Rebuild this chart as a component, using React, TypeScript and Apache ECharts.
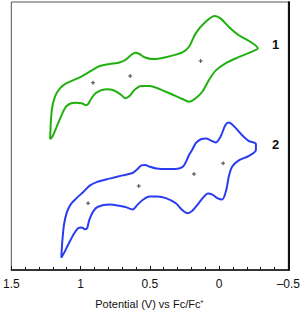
import React, { useEffect, useRef } from "react";
import * as echarts from "echarts";

// Potential (V vs Fc/Fc+) and current (arbitrary units, offset) for compound 1
const cv1Potential = [
  1.220, 1.208, 1.185, 1.149, 1.101, 1.005, 0.934, 0.862, 0.790, 0.719, 0.671, 0.635, 0.604, 0.575, 0.539, 0.480, 0.384, 0.265, 0.217, 0.169, 0.097, 0.030, -0.010, -0.069, -0.140, -0.237, -0.280,
  -0.237, -0.140, -0.046, 0.025, 0.073, 0.121, 0.169, 0.217, 0.265, 0.384, 0.504, 0.563, 0.611, 0.647, 0.676, 0.706, 0.754, 0.814, 0.886, 0.921, 0.946, 0.962, 0.993, 1.041, 1.101, 1.137, 1.172, 1.201, 1.220,
];
const cv1Current = [
  48.8, 59.7, 64.7, 67.8, 69.7, 71.9, 74.0, 76.1, 76.9, 77.4, 78.6, 80.2, 81.1, 80.6, 79.4, 78.7, 79.4, 81.2, 83.3, 88.3, 92.6, 94.8, 93.9, 90.8, 87.7, 84.8, 82.7,
  81.5, 79.4, 77.1, 74.4, 70.9, 66.5, 64.1, 62.8, 63.8, 66.5, 68.7, 68.7, 67.2, 64.9, 64.1, 65.3, 66.9, 67.4, 66.2, 64.1, 61.9, 61.5, 62.2, 62.4, 61.2, 57.8, 53.5, 50.0, 48.8,
];

// Compound 2
const cv2Potential = [
  1.139, 1.134, 1.120, 1.099, 1.070, 1.027, 0.977, 0.934, 0.884, 0.790, 0.697, 0.625, 0.593, 0.561, 0.532, 0.504, 0.453, 0.360, 0.289, 0.260, 0.238, 0.217, 0.195, 0.167, 0.131, 0.095, 0.059, 0.025, -0.010, -0.046, -0.070, -0.106, -0.165, -0.213, -0.266,
  -0.266, -0.213, -0.142, -0.094, -0.070, -0.052, -0.023, 0.009, 0.045, 0.081, 0.109, 0.152, 0.195, 0.228, 0.267, 0.312, 0.384, 0.446, 0.504, 0.552, 0.590, 0.623, 0.676, 0.733, 0.790, 0.874, 0.910, 0.937, 0.953, 0.970, 0.991, 1.018, 1.053, 1.091, 1.120, 1.139,
];
const cv2Current = [
  4.6, 9.3, 16.8, 21.6, 24.6, 26.9, 29.3, 31.5, 32.8, 34.1, 35.3, 36.2, 37.5, 39.0, 39.2, 38.6, 37.9, 37.7, 37.9, 38.6, 40.5, 42.9, 44.8, 47.4, 48.8, 49.1, 48.3, 47.6, 49.7, 54.1, 55.0, 53.7, 50.4, 48.2, 47.0,
  44.8, 42.5, 40.9, 38.5, 34.8, 29.9, 26.3, 26.7, 28.0, 28.5, 27.4, 24.6, 22.0, 21.2, 22.4, 24.9, 26.8, 27.4, 27.4, 26.1, 24.3, 22.6, 23.5, 24.1, 24.4, 23.6, 21.8, 18.7, 15.6, 15.2, 15.9, 15.6, 13.1, 9.3, 6.3, 4.6,
];

// Half-wave potentials (E1/2) markers
const e12Potential1 = [0.910, 0.642, 0.133];
const e12Current1 = [69.9, 72.4, 78.0];
const e12Potential2 = [0.946, 0.580, 0.181, -0.029];
const e12Current2 = [24.9, 31.3, 35.8, 39.8];

const xTicks = { min: -0.5, max: 1.5, interval: 0.5 };
const labels = ["1", "2"];

const zip = (a: number[], b: number[]) => a.map((v, i) => [v, b[i]]);

const FONT = "'Liberation Sans', Arial, Helvetica, sans-serif";
const PLUS = "path://M1.5,0h1v1.5h1.5v1h-1.5v1.5h-1v-1.5h-1.5v-1h1.5z";

export default function App() {
  const ref = useRef<HTMLDivElement>(null);
  useEffect(() => {
    if (!ref.current) return;
    const chart = echarts.init(ref.current, undefined, { renderer: "svg" });
    chart.setOption({
      animation: false,
      backgroundColor: "#fff",
      grid: {
        left: 11, right: 13, top: 2, bottom: 45,
        show: true, borderColor: "#555", borderWidth: 1,
      },
      xAxis: {
        type: "value",
        inverse: true,
        min: xTicks.min, max: xTicks.max, interval: xTicks.interval,
        name: "Potential (V) vs Fc/Fc\u207A",
        nameLocation: "middle",
        nameGap: 28,
        nameTextStyle: { fontFamily: FONT, fontSize: 11, color: "#111" },
        axisLine: { show: true, onZero: false, lineStyle: { color: "#111", width: 1.5 } },
        axisTick: { show: true, inside: true, length: 4, lineStyle: { color: "#111", width: 1 } },
        minorTick: { show: true, splitNumber: 5, length: 3, lineStyle: { color: "#111", width: 1 } },
        splitLine: { show: false },
        axisLabel: {
          fontFamily: FONT, fontSize: 12, color: "#111", margin: 8,
          showMinLabel: true, showMaxLabel: true,
          formatter: (v: number) => String(v).replace("-", "\u2013"),
        },
      },
      yAxis: {
        type: "value",
        min: 0, max: 100,
        position: "right",
        axisLine: { show: true, onZero: false, lineStyle: { color: "#111", width: 2 } },
        axisTick: { show: false },
        axisLabel: { show: false },
        splitLine: { show: false },
      },
      series: [
        {
          type: "line", data: zip(cv1Potential, cv1Current), smooth: 0.3,
          showSymbol: false, lineStyle: { color: "#22b010", width: 2 },
        },
        {
          type: "line", data: zip(cv2Potential, cv2Current), smooth: 0.3,
          showSymbol: false, lineStyle: { color: "#2a3cf0", width: 2 },
        },
        {
          type: "scatter", data: zip(e12Potential1, e12Current1), symbol: PLUS, symbolSize: 4,
          itemStyle: { color: "#1a1a1a" },
        },
        {
          type: "scatter", data: zip(e12Potential2, e12Current2), symbol: PLUS, symbolSize: 4,
          itemStyle: { color: "#1a1a1a" },
        },
      ],
      graphic: [
        { type: "text", left: 272, top: 38, style: { text: labels[0], font: `bold 13px ${FONT}`, fill: "#111" } },
        { type: "text", left: 272, top: 138, style: { text: labels[1], font: `bold 13px ${FONT}`, fill: "#111" } },
      ],
    });
    return () => chart.dispose();
  }, []);
  return <div ref={ref} style={{ position: "absolute", left: 0, top: 0, width: 303, height: 315 }} />;
}
